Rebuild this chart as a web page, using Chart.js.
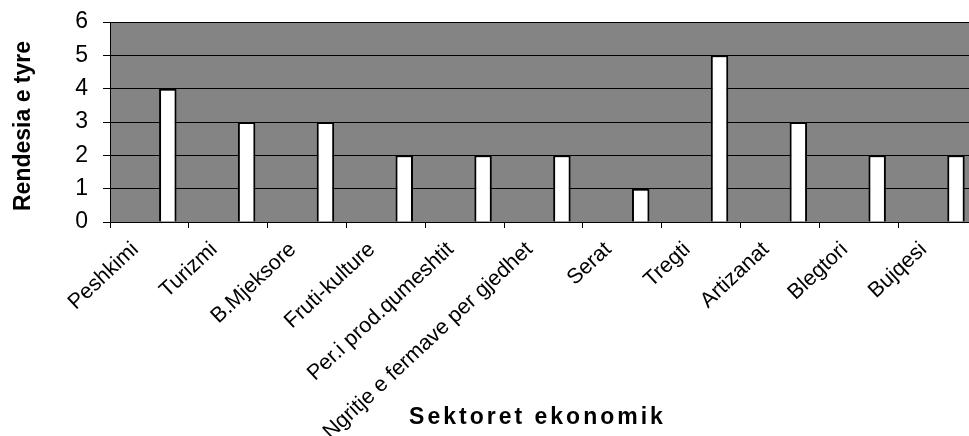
<!DOCTYPE html>
<html><head><meta charset="utf-8">
<script src="https://cdn.jsdelivr.net/npm/chart.js@4/dist/chart.umd.min.js"></script>
<style>html,body{margin:0;padding:0;overflow:hidden;background:#fff}#wrap{width:980px;height:436px}</style>
</head><body><div id="wrap"><canvas id="c" width="980" height="436"></canvas></div>
<script>
const categories = ['Peshkimi','Turizmi','B.Mjeksore','Fruti-kulture','Per.i prod.qumeshtit','Ngritje e fermave per gjedhet','Serat','Tregti','Artizanat','Blegtori','Bujqesi'];
const importance = [4,3,3,2,2,2,1,5,3,2,2];
const emptySeriesA = [null,null,null,null,null,null,null,null,null,null,null];
const emptySeriesB = [null,null,null,null,null,null,null,null,null,null,null];
const yTicks = [0,1,2,3,4,5,6];
const yTitle = 'Rendesia e tyre';
const xTitle = 'Sektoret ekonomik';

const FONT = "'Liberation Sans', Arial, sans-serif";

const plotBg = {
  id: 'plotBg',
  beforeDraw(chart) {
    const {ctx, chartArea: a} = chart;
    ctx.save();
    ctx.fillStyle = '#848484';
    ctx.fillRect(a.left, a.top, a.right - a.left, a.bottom - a.top);
    ctx.restore();
  }
};
function wrapTitle(scale, spacing, dx, dy) {
  if (scale._titleWrapped) return;
  const orig = scale.drawTitle;
  scale.drawTitle = function () {
    const ctx = this.ctx;
    ctx.save();
    ctx.letterSpacing = spacing;
    ctx.translate(dx, dy);
    orig.call(this);
    ctx.restore();
  };
  scale._titleWrapped = true;
}
const titleTweaks = {
  id: 'titleTweaks',
  afterLayout(chart) {
    wrapTitle(chart.scales.x, '3px', -6, 0);
    wrapTitle(chart.scales.y, '0px', 0, 4);
  }
};

new Chart(document.getElementById('c'), {
  type: 'bar',
  data: {
    labels: categories,
    datasets: [
      {data: emptySeriesA, backgroundColor: '#fff', borderColor: '#000', borderWidth: 2},
      {data: emptySeriesB, backgroundColor: '#fff', borderColor: '#000', borderWidth: 2},
      {data: importance, backgroundColor: '#fff', borderColor: '#000', borderWidth: 2, borderSkipped: 'bottom'}
    ]
  },
  options: {
    responsive: false,
    animation: false,
    devicePixelRatio: 1,
    categoryPercentage: 0.70,
    barPercentage: 0.95,
    layout: {padding: {top: 22, right: 3, left: 0, bottom: 0}},
    plugins: {legend: {display: false}, tooltip: {enabled: false}},
    scales: {
      x: {
        offset: true,
        grid: {offset: true, drawOnChartArea: false, drawTicks: true, tickLength: 6, color: '#000', lineWidth: 1},
        border: {color: '#000', width: 1},
        ticks: {autoSkip: false, minRotation: 43, maxRotation: 43, labelOffset: -14, padding: 9, color: '#000', font: {family: FONT, size: 21.5}},
        title: {display: true, text: xTitle, color: '#000', font: {family: FONT, size: 23, weight: 'bold'}, padding: {top: 0, bottom: 5}},
        afterFit(s) { s.height = 214; s.paddingLeft = 0; s.paddingRight = 0; }
      },
      y: {
        min: yTicks[0], max: yTicks[yTicks.length - 1],
        afterBuildTicks(s) { s.ticks = yTicks.map(v => ({value: v})); },
        grid: {color: '#000', lineWidth: 1, tickLength: 7},
        border: {color: '#000', width: 1},
        ticks: {padding: 15, color: '#000', font: {family: FONT, size: 23}},
        title: {display: true, text: yTitle, color: '#000', font: {family: FONT, size: 23, weight: 'bold'}, padding: {top: 10, bottom: 0}},
        afterFit(s) { s.width = 110; s.paddingTop = 0; s.paddingBottom = 0; }
      }
    }
  },
  plugins: [plotBg, titleTweaks]
});
</script>
</body></html>
